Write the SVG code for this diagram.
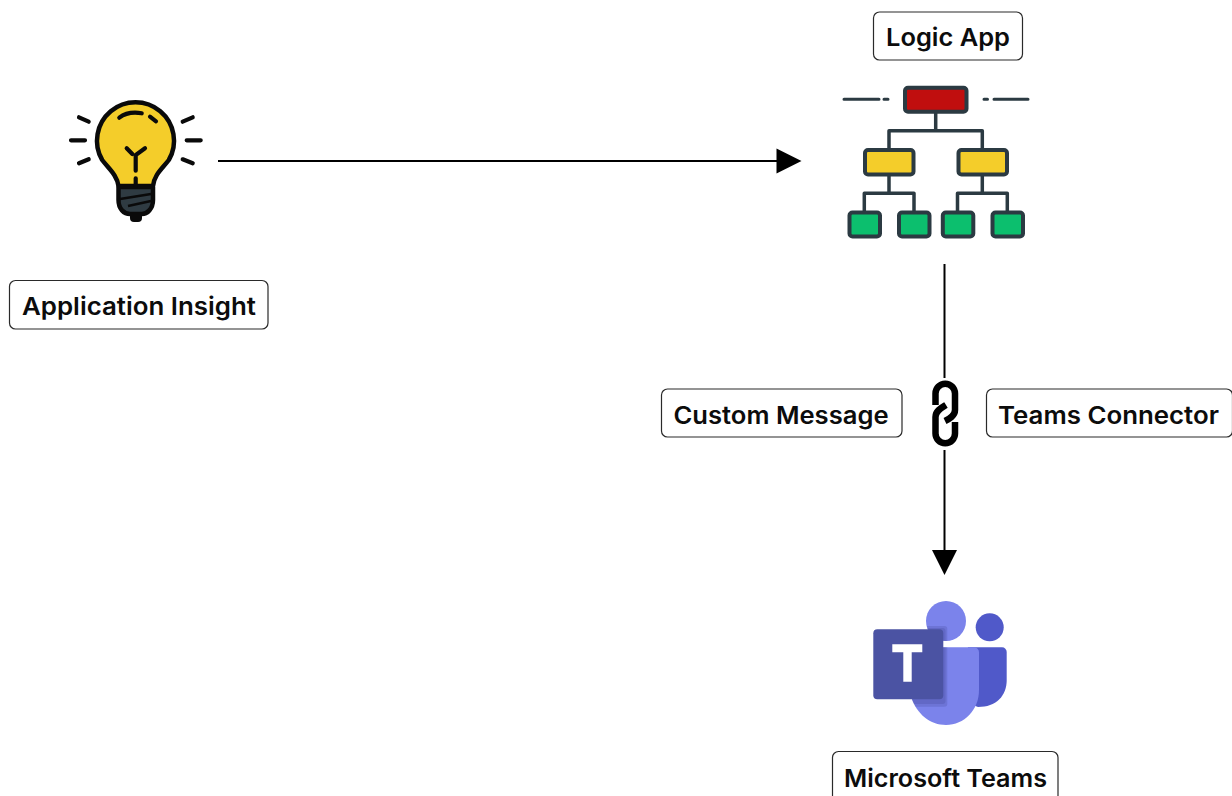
<svg xmlns="http://www.w3.org/2000/svg" width="1232" height="796" viewBox="0 0 1232 796">
<style>
.box{fill:#fff;stroke:#2a2a2a;stroke-width:1.2}
.lbl{font-family:"Inter","Liberation Sans",sans-serif;font-size:24.5px;font-weight:600;fill:#0c0c0c}
.conn{stroke:#000;stroke-width:2;fill:none}
.ink{stroke:#0a0a0a;stroke-width:4.2;stroke-linecap:round;fill:none}
.tree{stroke:#2b3a42;stroke-width:3.5;fill:none;stroke-linejoin:round}
.dash{stroke:#2b3a42;stroke-width:3;stroke-linecap:round;fill:none}
.red{fill:#c00e0e;stroke:#2b3a42;stroke-width:4}
.yel{fill:#f4cd2a;stroke:#2b3a42;stroke-width:4}
.grn{fill:#0cbf6e;stroke:#2b3a42;stroke-width:4}
.chain{stroke:#000;stroke-width:6.5;fill:none}
</style>
<defs>
<clipPath id="tb"><circle cx="946" cy="621" r="20"/><path d="M941 647.3H974A5 5 0 0 1 979 652.300V690C979 710 964 725 946 725C930 725 917 714 911.500 698L905 640Z"/></clipPath>
</defs>
<g id="connectors">
<line class="conn" x1="218" y1="161" x2="778" y2="161"/>
<polygon points="776.500,148.500 801.500,161 776.500,173.500" fill="#000"/>
<line class="conn" x1="944.500" y1="264" x2="944.500" y2="378"/>
<line class="conn" x1="944.500" y1="450" x2="944.500" y2="552"/>
<polygon points="932,550 957,550 944.500,575" fill="#000"/>
</g>
<g id="application-insight">
<path d="M118.500 186C117 175 109 169 102.200 160A38.500 38.500 0 1 1 168.800 160C162 169 154 175 153 186Z" fill="#f4cd2a" stroke="#0a0a0a" stroke-width="4.500" stroke-linejoin="round"/>
<path d="M118.500 187H153V200C153 209 147 214 142 214H130C124 214 118.500 209 118.500 200Z" fill="#2f3b42" stroke="#0a0a0a" stroke-width="4.500" stroke-linejoin="round"/>
<path d="M120 199L151 194M128 206L151 201" stroke="#0a0a0a" stroke-width="2.500" fill="none"/>
<path d="M130 215V218A4 4 0 0 0 134 222H138A4 4 0 0 0 142 218V215Z" fill="#0a0a0a"/>
<path class="ink" d="M79 117.300L88.700 121.700M71 140.300H85M79 163.300L88.700 159.300M182.700 121.700L192.700 117.300M186.700 140.300H200.700M182.700 159.300L192.700 163.300"/>
<path class="ink" d="M119.300 117.700Q128 111 141.700 113.300M150 116.700L156 121.300M126.700 148.300L132.300 154M145 148.300L135.700 155V170.700M135.700 178.300V186"/>
</g>
<g id="logic-app">
<path class="tree" d="M935.700 112V130.700M889 150V130.700H982.300V150M889 175V193.300M864.300 212V193.300H914V212M982.300 175V193.300M957.500 212V193.300H1007.300V212"/>
<path class="dash" d="M844 99.300H879M884 99.300H888M984 99.300H987.500M994 99.300H1028"/>
<rect class="red" x="905" y="87.800" width="61.500" height="24" rx="3"/>
<rect class="yel" x="865" y="150" width="48.500" height="24.500" rx="3"/>
<rect class="yel" x="958.500" y="150" width="48.500" height="24.500" rx="3"/>
<rect class="grn" x="849.500" y="212.500" width="30.500" height="24" rx="3"/>
<rect class="grn" x="899" y="212.500" width="30.500" height="24" rx="3"/>
<rect class="grn" x="942.800" y="212.500" width="30.500" height="24" rx="3"/>
<rect class="grn" x="992.500" y="212.500" width="30.500" height="24" rx="3"/>
</g>
<g id="link-icon">
<path class="chain" d="M935.500 405V393.500A9.750 9.750 0 0 1 955 393.500V410C955 416 949 419 945 421"/>
<path class="chain" d="M955 422V433.500A9.750 9.750 0 0 1 935.500 433.500V417C935.500 411 941 408 946 405"/>
</g>
<g id="microsoft-teams">
<circle cx="989.700" cy="627.300" r="14" fill="#5059c9"/>
<path d="M968 647.300H1002A4.700 4.700 0 0 1 1006.700 652V680C1006.700 696 996 707 978 707L960 700Z" fill="#5059c9"/>
<circle cx="946" cy="621" r="20" fill="#7b83eb"/>
<path d="M941 647.300H974A5 5 0 0 1 979 652.300V690C979 710 964 725 946 725C930 725 917 714 911.500 698V650Z" fill="#7b83eb"/>
<g clip-path="url(#tb)">
<rect x="900" y="626" width="47.300" height="80.700" rx="3" fill="#3a3f8c" opacity=".22"/>
<rect x="900" y="628" width="45.500" height="76" rx="3" fill="#3a3f8c" opacity=".22"/>
</g>
<rect x="873.300" y="629.300" width="70" height="70" rx="4" fill="#4b53a3"/>
<path d="M892.300 644.300H922.300V652.300H911.700V681.700H903.300V652.300H892.300Z" fill="#fff"/>
</g>
<g id="label-application-insight"><rect class="box" x="9.500" y="280.500" width="258.500" height="48.500" rx="6"/><text class="lbl" x="22" y="315" textLength="234" lengthAdjust="spacingAndGlyphs">Application Insight</text></g>
<g id="label-logic-app"><rect class="box" x="873.500" y="12" width="149" height="48" rx="6"/><text class="lbl" x="886" y="46" textLength="124" lengthAdjust="spacingAndGlyphs">Logic App</text></g>
<g id="label-custom-message"><rect class="box" x="661.500" y="389" width="240.500" height="48" rx="6"/><text class="lbl" x="673.500" y="424" textLength="215" lengthAdjust="spacingAndGlyphs">Custom Message</text></g>
<g id="label-teams-connector"><rect class="box" x="986.500" y="389" width="246" height="48" rx="6"/><text class="lbl" x="998" y="424" textLength="221" lengthAdjust="spacingAndGlyphs">Teams Connector</text></g>
<g id="label-microsoft-teams"><rect class="box" x="832.500" y="751.500" width="225.500" height="50" rx="6"/><text class="lbl" x="844" y="786.500" textLength="203" lengthAdjust="spacingAndGlyphs">Microsoft Teams</text></g>
</svg>
